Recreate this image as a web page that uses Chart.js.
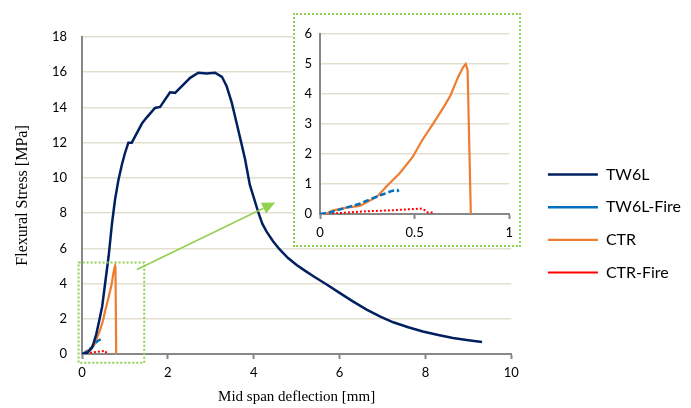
<!DOCTYPE html>
<html>
<head>
<meta charset="utf-8">
<script src="https://cdn.jsdelivr.net/npm/chart.js@4"></script>
<style>
    body { margin: 0; background: #fff; }
    #wrap { position: relative; width: 691px; height: 408px; }
    #mainChart { position: absolute; left: 0; top: 0; }
    #insetBox { position: absolute; left: 293px; top: 13px; width: 224px; height: 230px; border: 2px dotted #92d050; background: #fff; }
    #insetChart { position: absolute; left: 0; top: 0; }
</style>
</head>
<body>
<div id="wrap">
    <canvas id="mainChart" width="691" height="408"></canvas>
    <div id="insetBox"><canvas id="insetChart" width="224" height="230"></canvas></div>
</div>
<script>
// series data (x = deflection in mm, y = stress in MPa)
const tw6lX = [0, 0.12, 0.23, 0.27, 0.33, 0.39, 0.47, 0.54, 0.62, 0.70, 0.77, 0.85, 0.93, 1.0, 1.08, 1.16, 1.28, 1.4, 1.51, 1.7, 1.82, 2.05, 2.17, 2.28, 2.52, 2.71, 2.9, 3.1, 3.26, 3.37, 3.49, 3.6, 3.7, 3.8, 3.91, 4.0, 4.1, 4.2, 4.3, 4.45, 4.6, 4.8, 5.0, 5.2, 5.4, 5.7, 6.0, 6.3, 6.63, 6.95, 7.25, 7.6, 7.94, 8.3, 8.64, 9.0, 9.32];
const tw6lY = [0, 0.06, 0.35, 0.62, 1.1, 1.76, 2.7, 4.03, 5.55, 7.44, 8.77, 9.9, 10.76, 11.4, 12.0, 12.0, 12.56, 13.1, 13.44, 13.97, 14.03, 14.86, 14.83, 15.1, 15.68, 15.97, 15.93, 15.97, 15.74, 15.2, 14.26, 13.13, 12.1, 11.04, 9.6, 8.9, 8.1, 7.4, 6.95, 6.4, 5.95, 5.45, 5.05, 4.72, 4.4, 3.95, 3.47, 3.0, 2.52, 2.12, 1.8, 1.52, 1.28, 1.08, 0.91, 0.78, 0.68];

const tw6lFireX = [0, 0.05, 0.12, 0.21, 0.26, 0.33, 0.38, 0.41, 0.415];
const tw6lFireY = [0, 0.05, 0.18, 0.34, 0.48, 0.65, 0.77, 0.80, 0.74];

const ctrX = [0, 0.03, 0.07, 0.14, 0.21, 0.30, 0.365, 0.42, 0.49, 0.54, 0.61, 0.66, 0.69, 0.73, 0.757, 0.77, 0.78, 0.797];
const ctrY = [0, 0, 0.12, 0.21, 0.27, 0.57, 1.01, 1.35, 1.9, 2.46, 3.13, 3.63, 3.96, 4.57, 4.9, 5.0, 4.8, 0];

const ctrFireX = [0, 0.1, 0.19, 0.28, 0.365, 0.45, 0.54, 0.555, 0.57, 0.6];
const ctrFireY = [0, 0.03, 0.07, 0.1, 0.12, 0.15, 0.18, 0.12, 0.05, 0.05];

const seriesNames = ['TW6L', 'TW6L-Fire', 'CTR', 'CTR-Fire'];

// zoom frame (main chart units) and the arrow that points to the inset
const zoomFrame = { x0: -0.08, x1: 1.45, y0: -0.5, y1: 5.2 };
const arrowFrom = { x: 1.28, y: 4.8 };
const arrowTo = { x: 4.5, y: 8.6 };

function toPoints(xs, ys) {
    return xs.map((x, i) => ({ x: x, y: ys[i] }));
}

const tickFont = { family: 'Lato, "Open Sans", sans-serif', size: 13 };
const titleFont = { family: '"Liberation Serif", "Times New Roman", serif', size: 15 };
const gridColor = '#e3dfd0';
const axisColor = '#878787';

function makeDatasets(withMain) {
    const sets = [];
    if (withMain) {
        sets.push({ label: seriesNames[0], data: toPoints(tw6lX, tw6lY), borderColor: '#002060', borderWidth: 2.5 });
    }
    sets.push({ label: seriesNames[1], data: toPoints(tw6lFireX, tw6lFireY), borderColor: '#0070c0', borderWidth: 2.5, borderDash: [6, 3] });
    sets.push({ label: seriesNames[2], data: toPoints(ctrX, ctrY), borderColor: '#ed7d31', borderWidth: 2.2 });
    sets.push({ label: seriesNames[3], data: toPoints(ctrFireX, ctrFireY), borderColor: '#ff0000', borderWidth: 2, borderDash: [2, 2] });
    sets.forEach(s => {
        s.pointRadius = 0;
        s.fill = false;
        s.tension = 0;
        s.backgroundColor = s.borderColor;
    });
    return sets;
}

// draws the dotted frame around the zoomed area and the arrow to the inset
const zoomMarker = {
    id: 'zoomMarker',
    afterDraw(chart) {
        const ctx = chart.ctx;
        const xs = chart.scales.x;
        const ys = chart.scales.y;
        ctx.save();
        ctx.strokeStyle = '#92d050';
        ctx.fillStyle = '#92d050';

        ctx.lineWidth = 2;
        ctx.setLineDash([2, 2]);
        const l = xs.getPixelForValue(zoomFrame.x0), r = xs.getPixelForValue(zoomFrame.x1);
        const t = ys.getPixelForValue(zoomFrame.y1), b = ys.getPixelForValue(zoomFrame.y0);
        ctx.strokeRect(l, t, r - l, b - t);

        ctx.setLineDash([]);
        ctx.lineWidth = 1.5;
        const ax = xs.getPixelForValue(arrowFrom.x), ay = ys.getPixelForValue(arrowFrom.y);
        const bx = xs.getPixelForValue(arrowTo.x), by = ys.getPixelForValue(arrowTo.y);
        const ang = Math.atan2(by - ay, bx - ax);
        const head = 13;
        ctx.beginPath();
        ctx.moveTo(ax, ay);
        ctx.lineTo(bx - Math.cos(ang) * head, by - Math.sin(ang) * head);
        ctx.stroke();
        ctx.beginPath();
        ctx.moveTo(bx, by);
        ctx.lineTo(bx - Math.cos(ang) * head - Math.sin(ang) * 6, by - Math.sin(ang) * head + Math.cos(ang) * 6);
        ctx.lineTo(bx - Math.cos(ang) * head + Math.sin(ang) * 6, by - Math.sin(ang) * head - Math.cos(ang) * 6);
        ctx.closePath();
        ctx.fill();
        ctx.restore();
    }
};

new Chart(document.getElementById('mainChart'), {
    type: 'line',
    data: { datasets: makeDatasets(true) },
    options: {
        responsive: false,
        animation: false,
        events: [],
        layout: { padding: { top: 37, left: 0, right: 0, bottom: 0 } },
        plugins: {
            tooltip: { enabled: false },
            legend: {
                position: 'right',
                align: 'start',
                maxWidth: 200,
                title: { display: true, text: '', font: { size: 10 }, padding: { top: 101, bottom: 0 } },
                labels: {
                    usePointStyle: true,
                    pointStyle: 'line',
                    pointStyleWidth: 50,
                    padding: 16.6,
                    color: '#000',
                    font: { family: 'Lato, "Open Sans", sans-serif', size: 16 }
                }
            }
        },
        scales: {
            x: {
                type: 'linear',
                min: 0,
                max: 10,
                ticks: { stepSize: 2, color: '#000', font: tickFont, padding: 6 },
                grid: { drawOnChartArea: false, drawTicks: true, tickLength: 5, tickColor: axisColor, tickWidth: 2 },
                border: { color: axisColor, width: 2 },
                title: { display: true, text: 'Mid span deflection [mm]', color: '#000', font: titleFont, padding: { top: 0, bottom: 2 } },
                afterFit(scale) { scale.height = 54; }
            },
            y: {
                type: 'linear',
                min: 0,
                max: 18,
                ticks: { stepSize: 2, color: '#000', font: tickFont, padding: 15 },
                grid: { color: gridColor, lineWidth: 1.5, drawTicks: false },
                border: { color: axisColor, width: 2 },
                title: { display: true, text: 'Flexural Stress [MPa]', color: '#000', font: { family: titleFont.family, size: 16 }, padding: { top: 13, bottom: 0 } },
                afterFit(scale) { scale.width = 82; }
            },
            spacer: {
                type: 'linear',
                position: 'right',
                display: true,
                ticks: { display: false },
                grid: { display: false },
                border: { display: false },
                afterFit(scale) { scale.width = 20; }
            }
        }
    },
    plugins: [zoomMarker]
});

new Chart(document.getElementById('insetChart'), {
    type: 'line',
    data: { datasets: makeDatasets(false) },
    options: {
        responsive: false,
        animation: false,
        events: [],
        layout: { padding: { top: 19, left: 0, right: 7, bottom: 0 } },
        plugins: {
            tooltip: { enabled: false },
            legend: { display: false }
        },
        scales: {
            x: {
                type: 'linear',
                min: 0,
                max: 1,
                ticks: { stepSize: 0.5, color: '#000', font: tickFont, padding: 6, callback: v => String(v) },
                grid: { drawOnChartArea: false, drawTicks: true, tickLength: 5, tickColor: axisColor, tickWidth: 2 },
                border: { color: axisColor, width: 2 },
                afterFit(scale) { scale.height = 31; }
            },
            y: {
                type: 'linear',
                min: 0,
                max: 6,
                ticks: { stepSize: 1, color: '#000', font: tickFont, padding: 8 },
                grid: { color: gridColor, lineWidth: 1.5, drawTicks: false },
                border: { color: axisColor, width: 2 },
                afterFit(scale) { scale.width = 25; }
            }
        }
    }
});
</script>
</body>
</html>
